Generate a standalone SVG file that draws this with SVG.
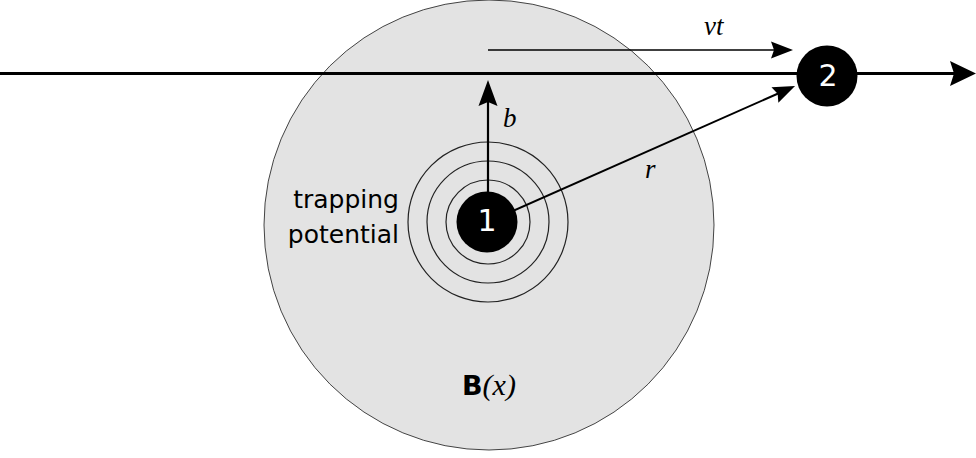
<svg xmlns="http://www.w3.org/2000/svg" width="976" height="458" viewBox="0 0 976 458">
<defs>
<style>
.ln{stroke:#000;fill:none}
.ring{fill:none;stroke:#222;stroke-width:1.2}
.node{fill:#000}
.num{font-family:"DejaVu Sans",Verdana,sans-serif;font-size:30px;fill:#fff;text-anchor:middle}
.lab{font-family:"DejaVu Sans",Verdana,sans-serif;font-size:25px;fill:#000}
.it{font-family:"Liberation Serif","Times New Roman",serif;font-style:italic;font-size:27px;fill:#000}
</style>
<marker id="bigHead" markerUnits="userSpaceOnUse" orient="auto" overflow="visible" markerWidth="30" markerHeight="30">
<path d="M-6,-12.5 L20,0 L-6,12.5 L-2,0 Z" fill="#000"/>
</marker>
<marker id="head" markerUnits="userSpaceOnUse" orient="auto" overflow="visible" markerWidth="30" markerHeight="30">
<path d="M-6,-8.5 L16,0 L-6,8.5 L-3,0 Z" fill="#000"/>
</marker>
<marker id="headB" markerUnits="userSpaceOnUse" orient="auto" overflow="visible" markerWidth="30" markerHeight="30">
<path d="M-6,-9.5 L20,0 L-6,9.5 L-2,0 Z" fill="#000"/>
</marker>
</defs>
<rect width="976" height="458" fill="#fff"/>
<g id="region">
<circle cx="489" cy="225" r="225" fill="#e3e3e3" stroke="#444" stroke-width="1"/>
<text x="462" y="395" style="font-family:'DejaVu Sans',Verdana,sans-serif;font-weight:bold;font-size:27px">B<tspan style="font-family:'Liberation Serif','Times New Roman',serif;font-style:italic;font-weight:normal;font-size:30px">(x)</tspan></text>
</g>
<g id="potential">
<circle class="ring" cx="488" cy="222" r="42"/>
<circle class="ring" cx="488" cy="222" r="61"/>
<circle class="ring" cx="488" cy="222" r="80"/>
<text class="lab" x="399" y="208" text-anchor="end">trapping</text>
<text class="lab" x="399" y="243" text-anchor="end">potential</text>
</g>
<g id="connectors">
<line class="ln" x1="0" y1="73.5" x2="956" y2="73.5" stroke-width="3" marker-end="url(#bigHead)"/>
<line class="ln" x1="488" y1="50" x2="777" y2="50" stroke-width="1.6" marker-end="url(#head)"/>
<line class="ln" x1="488" y1="222" x2="488" y2="100" stroke-width="2.2" marker-end="url(#headB)"/>
<line class="ln" x1="488" y1="222" x2="780.4" y2="92.5" stroke-width="2" marker-end="url(#head)"/>
<text class="it" x="704" y="35">vt</text>
<text class="it" x="503" y="127">b</text>
<text class="it" x="645" y="178">r</text>
</g>
<g id="node1">
<circle class="node" cx="487" cy="222" r="30.5"/>
<text class="num" x="487" y="231">1</text>
</g>
<g id="node2">
<circle class="node" cx="827" cy="76" r="30.5"/>
<text class="num" x="828" y="86">2</text>
</g>
</svg>
